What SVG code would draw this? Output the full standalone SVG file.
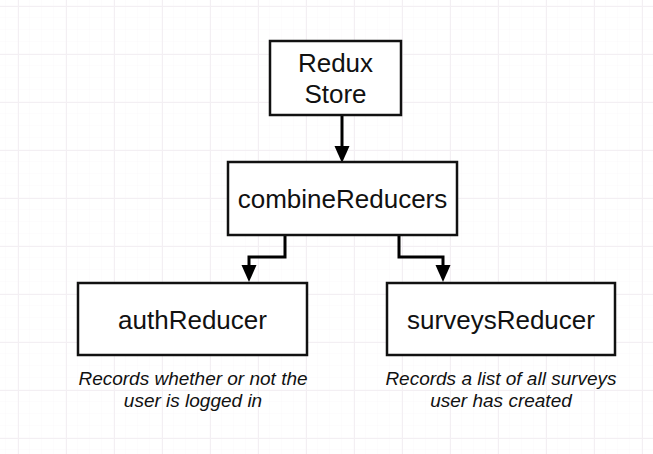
<svg xmlns="http://www.w3.org/2000/svg" width="653" height="454" viewBox="0 0 653 454">
  <defs>
    <pattern id="minor" width="12" height="12" patternUnits="userSpaceOnUse" x="6" y="6">
      <path d="M12 0V12M0 12H12" fill="none" stroke="#faf8fa" stroke-width="1"/>
    </pattern>
    <pattern id="major" width="48" height="48" patternUnits="userSpaceOnUse" x="18" y="6">
      <path d="M0.5 0V48M0 0.5H48" fill="none" stroke="#f3eff3" stroke-width="1"/>
    </pattern>
    <style>
      .box { fill: #fff; stroke: #111; stroke-width: 2.5; }
      .lbl { font-family: "Liberation Sans", Arial, sans-serif; font-size: 26px; fill: #111; text-anchor: middle; }
      .note { font-family: "Liberation Sans", Arial, sans-serif; font-size: 19px; font-style: italic; fill: #111; text-anchor: middle; }
      .wire { fill: none; stroke: #000; stroke-width: 3; stroke-linejoin: miter; }
      .tip { fill: #000; }
    </style>
  </defs>

  <!-- canvas grid -->
  <rect width="653" height="454" fill="#fff"/>
  <rect width="653" height="454" fill="url(#minor)"/>
  <rect width="653" height="454" fill="url(#major)"/>

  <!-- connectors -->
  <g id="connectors">
    <path class="wire" d="M342 116V148"/>
    <path class="tip" d="M334.5 146L349.5 146L342 163Z"/>
    <path class="wire" d="M285 236V257H249V268"/>
    <path class="tip" d="M241.5 265L256.5 265L249 282Z"/>
    <path class="wire" d="M399 236V257H443V268"/>
    <path class="tip" d="M435.5 265L450.5 265L443 282Z"/>
  </g>

  <g id="store">
    <rect class="box" x="270" y="41" width="131" height="74"/>
    <text class="lbl" x="335.5" y="72">Redux</text>
    <text class="lbl" x="335.5" y="103">Store</text>
  </g>

  <g id="combine">
    <rect class="box" x="228" y="162" width="229" height="73"/>
    <text class="lbl" x="342.5" y="208">combineReducers</text>
  </g>

  <g id="auth">
    <rect class="box" x="78" y="283" width="229" height="72"/>
    <text class="lbl" x="192.5" y="329">authReducer</text>
    <text class="note" x="193" y="385">Records whether or not the</text>
    <text class="note" x="193" y="407">user is logged in</text>
  </g>

  <g id="surveys">
    <rect class="box" x="387" y="283" width="228" height="72"/>
    <text class="lbl" x="501" y="329">surveysReducer</text>
    <text class="note" x="501" y="385">Records a list of all surveys</text>
    <text class="note" x="501" y="407">user has created</text>
  </g>
</svg>
